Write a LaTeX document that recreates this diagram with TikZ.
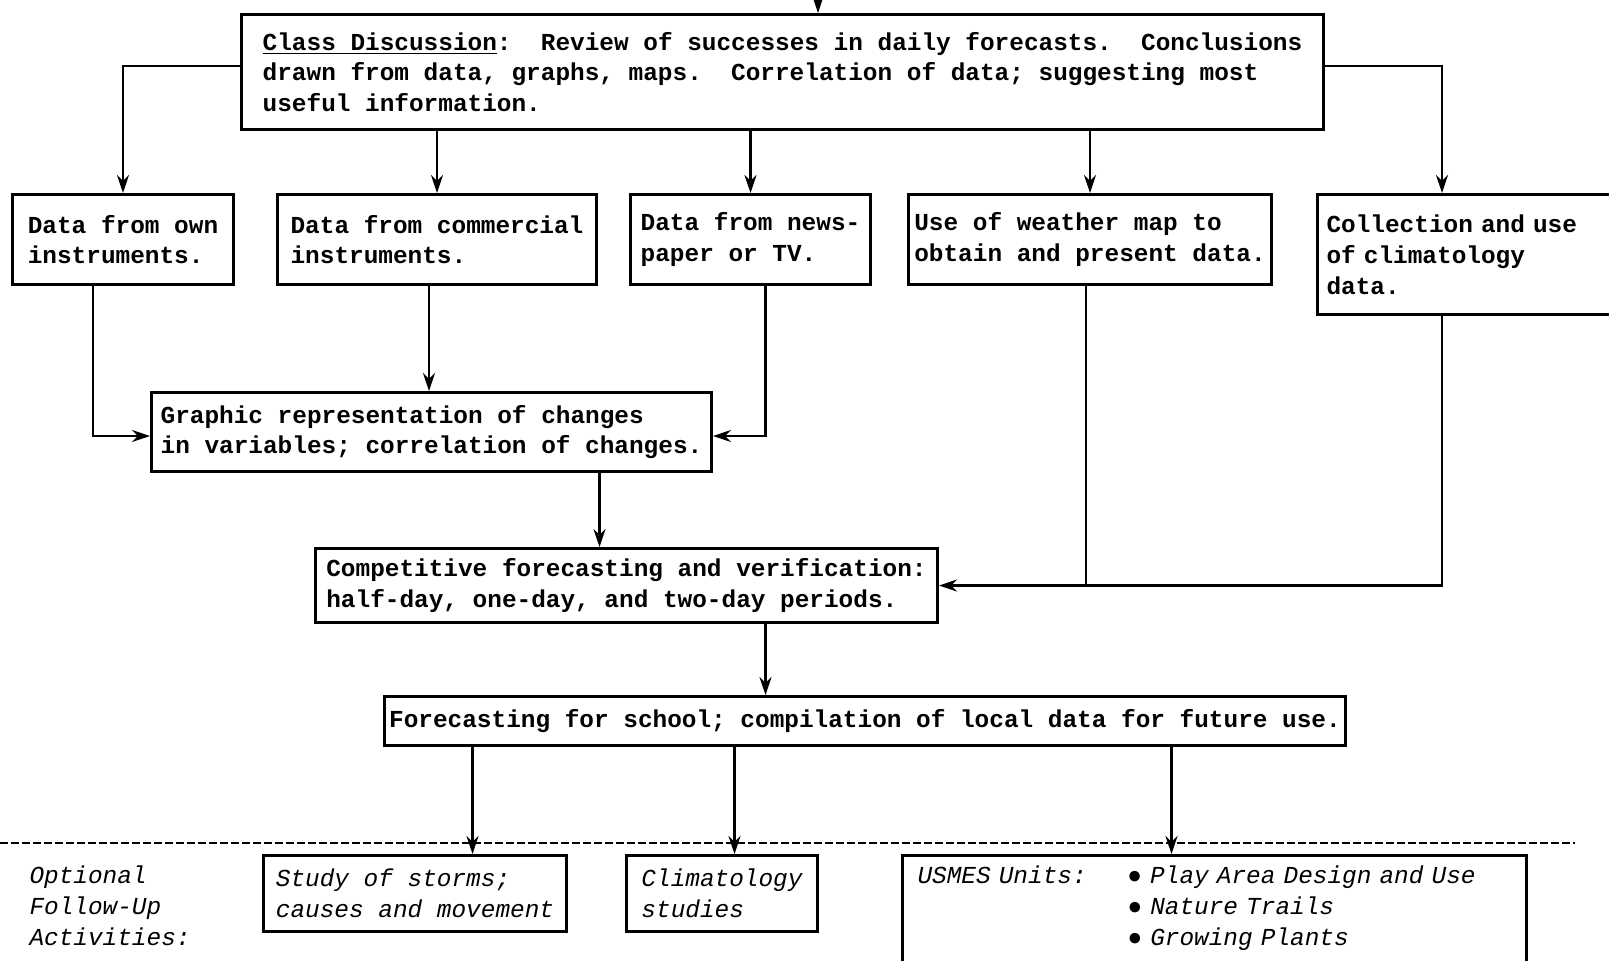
\documentclass[tikz,border=0pt]{standalone}
\usepackage{fontspec}
\setmonofont{Liberation Mono}
\usepackage{tikz}
\usetikzlibrary{arrows.meta, positioning}

\tikzset{
	box/.style={draw, line width=1.5pt, anchor=north west, align=left, inner sep=0pt,
		font=\ttfamily\bfseries\fontsize{12.2}{15.4}\selectfont},
	follow/.style={box, font=\ttfamily\itshape\fontsize{12.2}{15.4}\selectfont},
	flow/.style={line width=1.3pt, ->},
}

\begin{document}
\begin{tikzpicture}[x=0.5pt, y=-0.5pt, >={Stealth[length=9pt,width=6pt]}]
		\useasboundingbox (0,0) rectangle (1609,960);
		% top row
		\node[box, minimum width=541pt, minimum height=57.5pt] (top) at (240,13)
			{\underline{Class Discussion}:~ Review of successes in daily forecasts.~ Conclusions\\
			 drawn from data, graphs, maps.~ Correlation of data; suggesting most\\
			 useful information.};
		% data sources
		\node[box, minimum width=110.5pt, minimum height=45pt] (own) at (11,193) {Data from own\\instruments.};
		\node[box, minimum width=159.5pt, minimum height=45pt] (comm) at (276,193) {Data from commercial\\instruments.};
		\node[box, minimum width=120pt, minimum height=45pt] (news) at (629,193) {Data from news-\\paper or TV.};
		\node[box, minimum width=181.5pt, minimum height=45pt] (wmap) at (907,193) {Use of weather map to\\obtain and present data.};
		\node[box, text width=150pt, inner xsep=4.5pt, minimum height=60pt] (clim) at (1316,193) {Collection and use\\of climatology\\data.};
		% middle
		\node[box, minimum width=280pt, minimum height=39.5pt] (graph) at (150,391) {Graphic representation of changes\\in variables; correlation of changes.};
		\node[box, minimum width=311pt, minimum height=37pt] (comp) at (314,547) {Competitive forecasting and verification:\\half-day, one-day, and two-day periods.};
		\node[box, minimum width=480.5pt, minimum height=24.5pt] (fcst) at (383,695) {Forecasting for school; compilation of local data for future use.};
		% follow-up
		\node[follow, draw=none, anchor=west] (opt) at (28,906) {Optional\\Follow-Up\\Activities:};
		\node[follow, minimum width=151.5pt, minimum height=38pt] (storm) at (262,854) {Study of storms;\\causes and movement};
		\node[follow, minimum width=95.5pt, minimum height=38pt] (climst) at (625,854) {Climatology\\studies};
		\node[follow, inner xsep=7.5pt, inner ysep=4pt, text width=297pt, text height=10pt, text depth=70pt] (usmes) at (901,854)
			{\begin{tabular}[t]{@{}p{105pt}@{}l@{}}
			USMES Units: & ● Play Area Design and Use\\
			             & ● Nature Trails\\
			             & ● Growing Plants
			\end{tabular}};
		%
		\coordinate (in) at (818,-20);
		\coordinate (dl) at (0,843);
		\coordinate (dr) at (1575,843);
		\coordinate (c5) at ([xshift=63pt]clim.north west);
		\coordinate (c5b) at ([xshift=63pt]clim.south west);
		\coordinate (s1) at ([xshift=28.75pt]storm.north);
		\coordinate (s2) at ([xshift=6.25pt]climst.north);
		\coordinate (s3) at ([xshift=-21.5pt]usmes.north);
		% arrows out of the discussion
		\draw[flow] (in) -- (in |- top.north);
		\draw[flow] ([yshift=3pt]top.west) -| (own.north);
		\draw[flow] (top.south -| comm.north) -- (comm.north);
		\draw[flow] (top.south -| news.north) -- (news.north);
		\draw[flow] (top.south -| wmap.north) -- (wmap.north);
		\draw[flow] ([yshift=3pt]top.east) -| (c5);
		% into the graphs
		\draw[flow] ([xshift=-15pt]own.south) |- ([yshift=-2pt]graph.west);
		\draw[flow] ([xshift=-4pt]comm.south) -- ([xshift=-4pt]comm.south |- graph.north);
		\draw[flow] ([xshift=7.5pt]news.south) |- ([yshift=-2pt]graph.east);
		\draw[flow] ([xshift=84pt]graph.south) -- ([xshift=84pt]graph.south |- comp.north);
		% into the forecasts
		\draw[line width=1.3pt] ([xshift=-2pt]wmap.south) -- ([xshift=-2pt]wmap.south |- comp.east);
		\draw[flow] (c5b) |- (comp.east);
		\draw[flow] ([xshift=69.5pt]comp.south) -- ([xshift=69.5pt]comp.south |- fcst.north);
		% follow-up
		\draw[line width=1pt, dash pattern=on 4pt off 1.5pt] (dl) -- (dr);
		\draw[flow] (fcst.south -| s1) -- (s1);
		\draw[flow] (fcst.south -| s2) -- (s2);
		\draw[flow] (fcst.south -| s3) -- (s3);
	\end{tikzpicture}
\end{document}
